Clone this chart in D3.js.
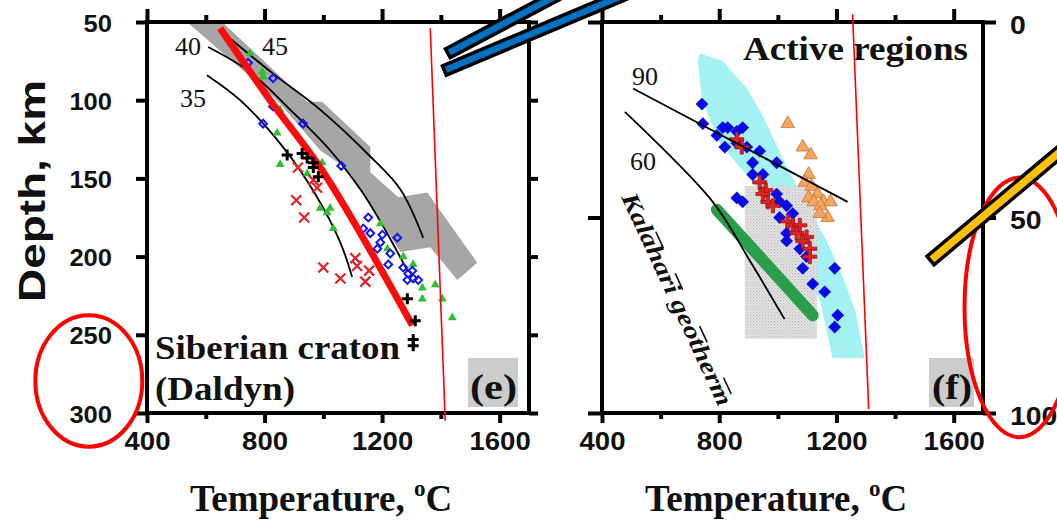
<!DOCTYPE html>
<html>
<head>
<meta charset="utf-8">
<script src="https://cdn.jsdelivr.net/npm/d3@7"></script>
<style>
  body { margin: 0; background: #fff; }
  svg { display: block; }
</style>
</head>
<body>
<svg id="chart" width="1057" height="520"></svg>
<script>
// axis ticks
const tempTicks = [400, 800, 1200, 1600]
const tempMinor = [600, 1000, 1400]
const depthTicksE = [50, 100, 150, 200, 250, 300]
const depthTicksF = [0, 50, 100]

// ---------- panel (e) : Siberian craton, [temperature C, depth km] ----------
const grayBandE = [[536,50],[656,50],[945,101],[996,101],[1160,130],[1160,146],[1255,162],[1354,159],
  [1524,204],[1456,215],[1364,194],[1262,197],[1160,166],[1058,141],[989,132],[843,100]]
const geotherm45 = [[666,58],[829,83],[989,106],[1160,136],[1262,157],[1340,188]]
const geotherm40 = [[608,66],[751,82],[887,106],[1023,132],[1126,157],[1211,183],[1286,209]]
const geotherm35 = [[604,84],[717,100],[863,130],[979,162],[1058,191],[1098,213]]
const redFitE = [[649,54],[819,100],[1000,146],[1303,244]]
const blueDiamondsE = [[744,76],[829,86],[829,104],[795,115],[931,115],[1061,142],[1153,175],[1136,182],
  [1160,185],[1201,186],[1252,188],[1194,191],[1184,195],[1228,198],[1221,205],[1272,207],[1289,211],
  [1306,214],[1323,215],[1286,215],[1303,209]]
const greenTrianglesE = [[751,70],[792,82],[795,85],[853,106],[843,121],[853,141],[996,140],[945,147],
  [989,169],[1023,169],[1013,172],[1034,182],[1194,179],[1218,195],[1272,200],[1306,205],[1337,220],
  [1381,218],[1337,227],[1405,227],[1439,239]]
const redCrossesE = [[914,143],[966,151],[979,156],[908,164],[935,175],[1000,207],[1058,214],[1109,201],
  [1115,206],[1156,209],[1143,216]]
const blackPlusE = [[877,135],[928,134],[945,137],[966,140],[966,143],[983,149],[1286,227],[1313,241],
  [1306,253],[1306,257]]

// ---------- panel (f) : active regions ----------
const cyanBandF = [[734,8],[812,10],[894,17],[949,24],[1017,35],[1092,46],[1167,56],[1221,65],[1265,74],
  [1296,86],[1187,86],[1143,71],[1051,57],[914,41],[802,31],[741,20],[727,10]]
const stippleF = [[887,42],[1133,81]]
const greenBandF = [[792,48],[1119,75]]
const geotherm90 = [[506,17],[1238,46]]
const geotherm60 = [[478,23],[778,46],[904,61],[1023,76]]
const blueDiamondsF = [[741,21],[744,26],[792,29],[812,27],[829,27],[860,28],[880,27],[819,32],[860,31],
  [894,32],[938,33],[996,36],[914,36],[914,39],[949,39],[996,44],[1006,46],[1030,47],[860,45],[880,46],
  [1051,49],[1006,50],[1030,54],[1075,58],[1030,56],[1098,60],[1085,63],[1194,63],[1119,67],[1160,69],
  [1204,75],[1194,78]]
const redPlusF = [[860,30],[877,32],[938,41],[959,43],[966,46],[983,47],[949,44],[1034,51],[1051,52],
  [1075,52],[1064,54],[1098,55],[1109,58],[1109,60],[1085,56]]
const orangeTrianglesF = [[1034,26],[1085,32],[1112,34],[1105,39],[1092,41],[1115,42],[1136,44],
  [1156,46],[1105,45],[1122,46],[1146,47],[1170,50],[1180,46],[1143,49]]

// ---------- marks drawn over the figure ----------
const redMarkE = [[1364,54],[1415,305]]
const redMarkF = [[1255,-2],[1310,99]]
const ellipseE = { t: 202, d: 279.5, rt: 182, rd: 42 }
const ellipseF = { t: 1824, d: 73, rt: 187, rd: 33.2 }
const blueBarsE = [{ t: 1424, d: 70, angle: -28 }, { t: 1412, d: 81, angle: -22.8 }]
const yellowBarF = { t: 1521, d: 61, angle: -40 }

const sans = "'Liberation Sans', Arial, sans-serif"
const serif = "'Liberation Serif', 'Times New Roman', serif"

const svg = d3.select('#chart')
svg.append('rect').attr('width', 1057).attr('height', 520).attr('fill', '#fff')

const xE = d3.scaleLinear().domain([400, 1700]).range([147, 529])
const yE = d3.scaleLinear().domain([50, 300]).range([22, 413])
const xF = d3.scaleLinear().domain([400, 1700]).range([602, 983])
const yF = d3.scaleLinear().domain([0, 100]).range([22, 413])

const defs = svg.append('defs')
const pat = defs.append('pattern').attr('id', 'stipple').attr('width', 3).attr('height', 3)
  .attr('patternUnits', 'userSpaceOnUse')
pat.append('rect').attr('width', 3).attr('height', 3).attr('fill', '#e6e6e6')
pat.append('rect').attr('width', 1.2).attr('height', 1.2).attr('fill', '#b8b8b8')
pat.append('rect').attr('x', 1.5).attr('y', 1.5).attr('width', 1.2).attr('height', 1.2).attr('fill', '#c8c8c8')

function clipFor(id, x, y) {
  defs.append('clipPath').attr('id', id).append('rect')
    .attr('x', x.range()[0]).attr('y', y.range()[0])
    .attr('width', x.range()[1] - x.range()[0]).attr('height', y.range()[1] - y.range()[0])
}
clipFor('clipE', xE, yE)
clipFor('clipF', xF, yF)

const symPath = (type, size) => d3.symbol().type(type).size(size)()
const crossX = 'M-5,-5L5,5M-5,5L5,-5'
const crossPlus = 'M-5.5,0H5.5M0,-5.5V5.5'
const fatPlus = 'M-1.6,-7H1.6V-1.6H7V1.6H1.6V7H-1.6V1.6H-7V-1.6H-1.6Z'

function points(g, data, x, y, path, rot) {
  return g.append('g').selectAll('path').data(data).join('path')
    .attr('d', path)
    .attr('transform', d => `translate(${x(d[0])},${y(d[1])})` + (rot ? ` rotate(${rot})` : ''))
}

function drawFrame(x, y, yTicks, o) {
  const [x0, x1] = x.range(), [y0, y1] = y.range()
  const g = svg.append('g')
  g.append('g').attr('transform', `translate(0,${y0})`)
    .call(d3.axisTop(x).tickValues(tempTicks).tickSize(13).tickSizeOuter(0).tickFormat(''))
  g.append('g').attr('transform', `translate(0,${y0})`)
    .call(d3.axisTop(x).tickValues(tempMinor).tickSize(7).tickSizeOuter(0).tickFormat(''))
  const bottom = g.append('g').attr('transform', `translate(0,${y1})`)
    .call(d3.axisBottom(x).tickValues(tempTicks).tickSize(10).tickSizeOuter(0).tickFormat(d3.format('d')))
  g.append('g').attr('transform', `translate(0,${y1})`)
    .call(d3.axisBottom(x).tickValues(tempMinor).tickSize(6).tickSizeOuter(0).tickFormat(''))
  const left = g.append('g').attr('transform', `translate(${x0},0)`)
    .call(d3.axisLeft(y).tickValues(yTicks).tickSize(o.left).tickSizeOuter(0))
  const right = g.append('g').attr('transform', `translate(${x1},0)`)
    .call(d3.axisRight(y).tickValues(yTicks).tickSize(o.right).tickSizeOuter(0))
  g.selectAll('.domain').remove()
  g.selectAll('.tick line').attr('stroke', '#000').attr('stroke-width', 4)
  g.append('rect').attr('x', x0).attr('y', y0).attr('width', x1 - x0).attr('height', y1 - y0)
    .attr('fill', 'none').attr('stroke', '#000').attr('stroke-width', 4)

  bottom.selectAll('.tick text').attr('y', 37).attr('dy', 0)
    .attr('font-family', sans).attr('font-weight', 'bold').attr('font-size', 25).attr('fill', '#111')
    .attr('textLength', d => String(d).length * 15.3).attr('lengthAdjust', 'spacingAndGlyphs')
  if (o.leftLabels) {
    left.selectAll('.tick text').attr('x', -35).attr('dy', 9)
      .attr('font-family', sans).attr('font-weight', 'bold').attr('font-size', 23).attr('fill', '#111')
      .attr('textLength', d => String(d).length * 14.2).attr('lengthAdjust', 'spacingAndGlyphs')
  } else left.selectAll('.tick text').remove()
  if (o.rightLabels) {
    right.selectAll('.tick text').attr('x', 27).attr('dy', 11)
      .attr('font-family', sans).attr('font-weight', 'bold').attr('font-size', 25).attr('fill', '#111')
      .attr('textLength', d => String(d).length * 15.8).attr('lengthAdjust', 'spacingAndGlyphs')
  } else right.selectAll('.tick text').remove()

  const title = svg.append('text').attr('x', o.titleX).attr('y', 511)
    .attr('font-family', serif).attr('font-weight', 'bold').attr('font-size', 37).attr('fill', '#111')
  title.append('tspan').text('Temperature, ')
  title.append('tspan').text('o').attr('font-size', 23).attr('dy', -15)
  title.append('tspan').text('C').attr('dy', 15)
}

function label(text, x, y, size, o = {}) {
  const t = svg.append('text').attr('x', x).attr('y', y).text(text)
    .attr('font-family', serif).attr('font-size', size).attr('fill', '#111')
    .attr('font-weight', o.weight || 'bold')
  if (o.len) t.attr('textLength', o.len).attr('lengthAdjust', 'spacingAndGlyphs')
  return t
}

// ======================= panel (e) =======================
const pe = svg.append('g').attr('clip-path', 'url(#clipE)')
pe.append('path').datum(grayBandE)
  .attr('d', d3.line().x(d => xE(d[0])).y(d => yE(d[1])))
  .attr('fill', '#a6a6a6')

const lineE = d3.line().x(d => xE(d[0])).y(d => yE(d[1])).curve(d3.curveCatmullRom)
pe.selectAll('.geo').data([geotherm45, geotherm40, geotherm35]).join('path')
  .attr('d', lineE).attr('fill', 'none').attr('stroke', '#000').attr('stroke-width', 1.8)

points(pe, greenTrianglesE, xE, yE, symPath(d3.symbolTriangle, 34)).attr('fill', '#2fc02f')
points(pe, blueDiamondsE, xE, yE, symPath(d3.symbolSquare, 30), 45)
  .attr('fill', 'none').attr('stroke', '#1414f0').attr('stroke-width', 2)
points(pe, redCrossesE, xE, yE, crossX).attr('fill', 'none').attr('stroke', '#e0262b').attr('stroke-width', 2.3)
pe.append('path').datum(redFitE).attr('d', lineE)
  .attr('fill', 'none').attr('stroke', '#ff0a0a').attr('stroke-width', 7)
points(pe, blackPlusE, xE, yE, crossPlus).attr('fill', 'none').attr('stroke', '#000').attr('stroke-width', 3)

label('40', 175, 55, 26, { weight: 'normal' })
label('45', 262, 55, 26, { weight: 'normal' })
label('35', 180, 107, 26, { weight: 'normal' })
label('Siberian craton', 155, 359, 33, { len: 245 })
label('(Daldyn)', 155, 400, 33, { len: 140 })
svg.append('rect').attr('x', 468).attr('y', 358).attr('width', 50).attr('height', 49).attr('fill', '#cccccc')
label('(e)', 470, 399, 35, { len: 47 })

drawFrame(xE, yE, depthTicksE, { left: 11, right: 9, leftLabels: true, rightLabels: false, titleX: 190 })

svg.append('text').attr('transform', 'translate(45,302) rotate(-90)').text('Depth, km')
  .attr('font-family', sans).attr('font-weight', 'bold').attr('font-size', 36).attr('fill', '#111')
  .attr('textLength', 222).attr('lengthAdjust', 'spacingAndGlyphs')

// ======================= panel (f) =======================
const pf = svg.append('g').attr('clip-path', 'url(#clipF)')
const lineF = d3.line().x(d => xF(d[0])).y(d => yF(d[1])).curve(d3.curveCatmullRom)
pf.append('path').datum(cyanBandF).attr('d', lineF.curve(d3.curveLinear)).attr('fill', '#a3f1f2')
lineF.curve(d3.curveCatmullRom)
pf.append('rect').attr('x', xF(stippleF[0][0])).attr('y', yF(stippleF[0][1]))
  .attr('width', xF(stippleF[1][0]) - xF(stippleF[0][0])).attr('height', yF(stippleF[1][1]) - yF(stippleF[0][1]))
  .attr('fill', 'url(#stipple)')
pf.append('path').datum(greenBandF).attr('d', lineF)
  .attr('fill', 'none').attr('stroke', '#2a9d4a').attr('stroke-width', 12).attr('stroke-linecap', 'round')
points(pf, blueDiamondsF, xF, yF, symPath(d3.symbolSquare, 82), 45).attr('fill', '#0a0ae6')
points(pf, orangeTrianglesF, xF, yF, symPath(d3.symbolTriangle, 80))
  .attr('fill', '#f6a45e').attr('stroke', '#c27434').attr('stroke-width', 0.8)
points(pf, redPlusF, xF, yF, fatPlus).attr('fill', '#e42024').attr('stroke', '#8e1212').attr('stroke-width', 0.7)
pf.selectAll('.geo').data([geotherm90, geotherm60]).join('path')
  .attr('d', lineF).attr('fill', 'none').attr('stroke', '#000').attr('stroke-width', 1.8)

label('90', 632, 85, 26, { weight: 'normal' })
label('60', 630, 170, 26, { weight: 'normal' })
label('Active regions', 743, 60, 33, { len: 225 })
svg.append('rect').attr('x', 929).attr('y', 358).attr('width', 45).attr('height', 49).attr('fill', '#cccccc')
label('(f)', 932, 399, 35, { len: 40 })

const kal = svg.append('g').attr('transform', `translate(${xF(465)},${yF(44.8)}) rotate(65.1)`)
kal.append('text').text('Kalahari geotherm')
  .attr('font-family', serif).attr('font-weight', 'bold').attr('font-style', 'italic')
  .attr('font-size', 24).attr('fill', '#111')
  .attr('textLength', 232).attr('lengthAdjust', 'spacingAndGlyphs')
kal.append('line').attr('x1', 0).attr('x2', 240).attr('y1', -17).attr('y2', -17)
  .attr('stroke', '#111').attr('stroke-width', 1.6)
  .attr('stroke-dasharray', '0,46,18,28,18,40,18,39,18,200')

drawFrame(xF, yF, depthTicksF, { left: 14, right: 13, leftLabels: false, rightLabels: true, titleX: 645 })

// ======================= annotations =======================
svg.append('line').attr('x1', xE(redMarkE[0][0])).attr('y1', yE(redMarkE[0][1]))
  .attr('x2', xE(redMarkE[1][0])).attr('y2', yE(redMarkE[1][1]))
  .attr('stroke', '#ff0000').attr('stroke-width', 1.6)
svg.append('line').attr('x1', xF(redMarkF[0][0])).attr('y1', yF(redMarkF[0][1]))
  .attr('x2', xF(redMarkF[1][0])).attr('y2', yF(redMarkF[1][1]))
  .attr('stroke', '#ff0000').attr('stroke-width', 1.6)

function ellipse(e, x, y) {
  svg.append('ellipse').attr('cx', x(e.t)).attr('cy', y(e.d))
    .attr('rx', x(e.t + e.rt) - x(e.t)).attr('ry', y(e.d + e.rd) - y(e.d))
    .attr('fill', 'none').attr('stroke', '#ff0000').attr('stroke-width', 4)
}
ellipse(ellipseE, xE, yE)
ellipse(ellipseF, xF, yF)

function bar(b, x, y, fill, h) {
  svg.append('rect').attr('transform', `translate(${x(b.t)},${y(b.d)}) rotate(${b.angle})`)
    .attr('x', 0).attr('y', -h / 2).attr('width', 260).attr('height', h)
    .attr('fill', fill).attr('stroke', '#000').attr('stroke-width', 3.5)
}
blueBarsE.forEach(b => bar(b, xE, yE, '#0070c0', 10))
bar(yellowBarF, xF, yF, '#ffc000', 11)
</script>
</body>
</html>
